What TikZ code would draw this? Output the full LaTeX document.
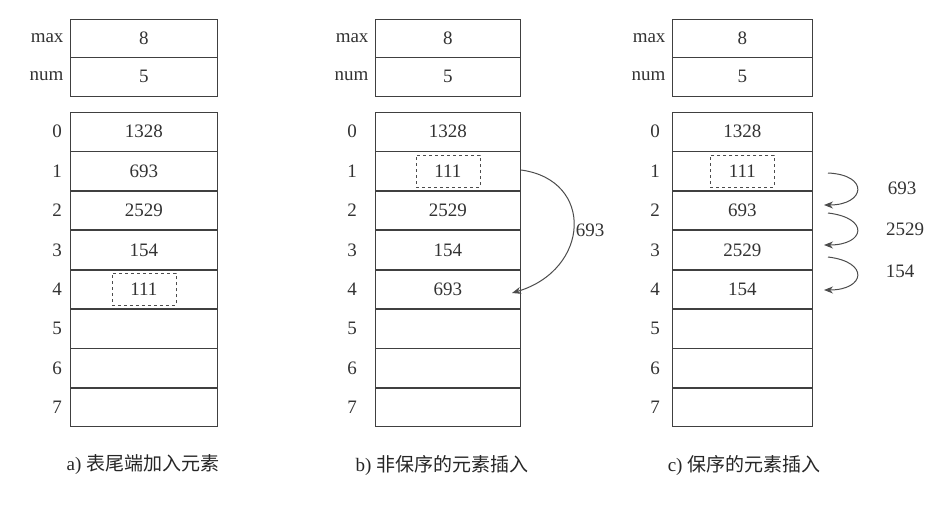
\documentclass[tikz,border=0pt]{standalone}
\usepackage{fontspec}
\usetikzlibrary{arrows.meta}
\setmainfont{Liberation Serif}
\newfontfamily\cjk{Noto Sans CJK SC}
\begin{document}
\begin{tikzpicture}[x=1pt,y=-1pt,
  cell/.style={draw=black!75,line width=0.8pt,minimum width=#1,minimum height=38.5pt,inner sep=0pt,anchor=north west,font=\fontsize{19}{19}\selectfont,text=black!80},
  lab/.style={font=\fontsize{19}{19}\selectfont,text=black!80},
  dbox/.style={draw=black!70,dashed,line width=0.8pt,minimum width=64pt,minimum height=32pt,inner sep=0pt},
  arr/.style={draw=black!70,line width=1pt,-{Stealth[length=9pt,width=7pt]}},
  captxt/.style={font=\fontsize{19}{19}\selectfont,text=black!85}]
\useasboundingbox (0,0) rectangle (942,527);
\fill[white] (0,0) rectangle (942,527);
\foreach \p/\x/\w/\ix in {a/70/147/57,b/375/145/352,c/672/140/655}{
  \node[cell=\w pt] (\p max) at (\x,19) {8};
  \node[cell=\w pt] (\p num) at (\x,57) {5};
  \node[lab,anchor=east] (\p maxl) at (\x-3,38) {max};
  \node[lab,anchor=east] (\p numl) at (\x-3,76) {num};
  \foreach \i in {0,...,7}{
    \node[cell=\w pt] (\p r\i) at (\x,{112+39.4*\i}) {};
    \node[lab] (\p i\i) at (\ix,{131.7+39.4*\i}) {\i};
  }
}
% panel a
\foreach \i/\v in {0/1328,1/693,2/2529,3/154}{\node[lab] (av\i) at (ar\i.center) {\v};}
\node[dbox,lab] (av4) at (ar4.center) {111};
% panel b
\foreach \i/\v in {0/1328,2/2529,3/154,4/693}{\node[lab] (bv\i) at (br\i.center) {\v};}
\node[dbox,lab] (bv1) at (br1.center) {111};
\coordinate (bs) at (521,170);
\coordinate (be) at (512,293);
\draw[arr] (bs) .. controls (595,180) and (590,270) .. (be);
\node[lab] (bl) at (590,230) {693};
% panel c
\foreach \i/\v in {0/1328,2/693,3/2529,4/154}{\node[lab] (cv\i) at (cr\i.center) {\v};}
\node[dbox,lab] (cv1) at (cr1.center) {111};
\coordinate (c1s) at (828,173); \coordinate (c1e) at (824,205);
\coordinate (c2s) at (828,213); \coordinate (c2e) at (824,245);
\coordinate (c3s) at (828,257); \coordinate (c3e) at (824,290);
\draw[arr] (c1s) .. controls (870,175) and (865,205) .. (c1e);
\draw[arr] (c2s) .. controls (870,218) and (865,245) .. (c2e);
\draw[arr] (c3s) .. controls (870,262) and (865,290) .. (c3e);
\node[lab] (cl1) at (902,188) {693};
\node[lab] (cl2) at (905,229) {2529};
\node[lab] (cl3) at (900,271) {154};
% captions
\node[captxt] (capa) at (143,465) {a) {\cjk 表尾端加入元素}};
\node[captxt] (capb) at (442,465) {b) {\cjk 非保序的元素插入}};
\node[captxt] (capc) at (744,465) {c) {\cjk 保序的元素插入}};
\end{tikzpicture}
\end{document}
